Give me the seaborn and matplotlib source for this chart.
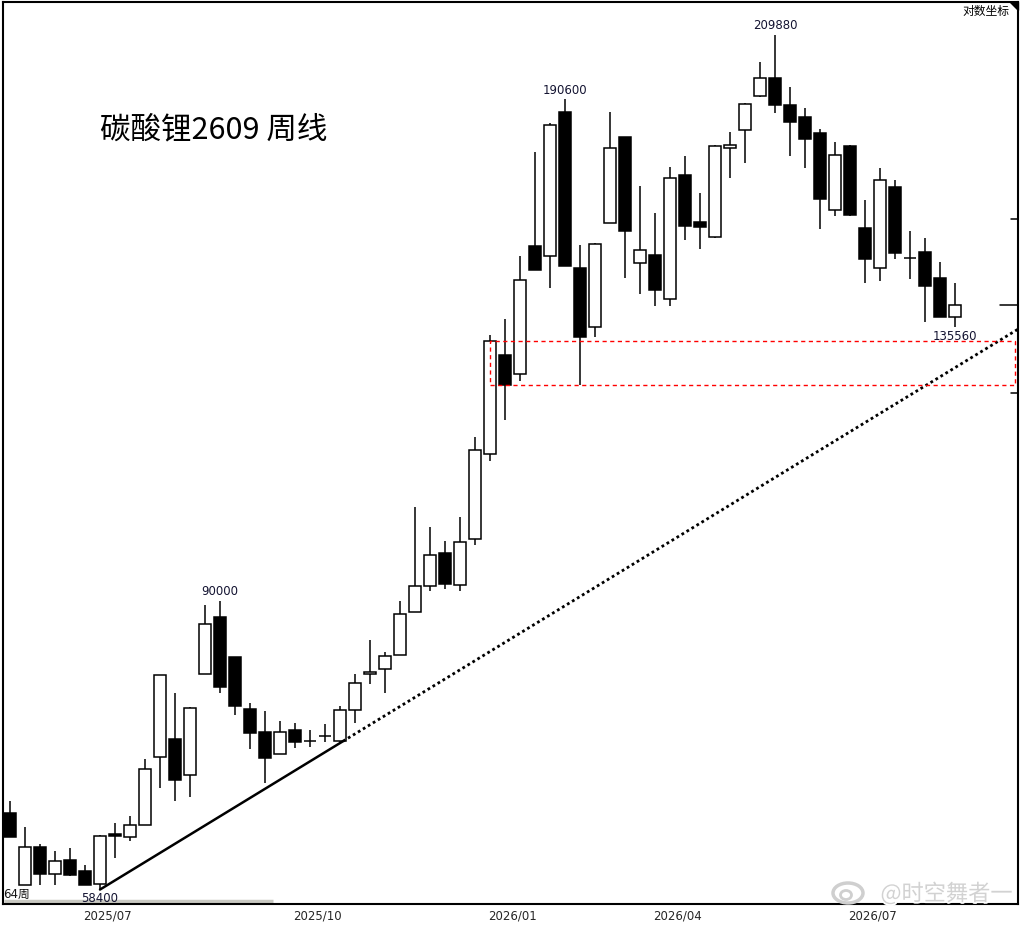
import numpy as np
import pandas as pd
import seaborn as sns
import matplotlib
matplotlib.use('Agg')
import matplotlib.pyplot as plt
import matplotlib.patheffects as pe
from matplotlib.patches import Rectangle, Polygon, Ellipse

# weekly OHLC, 64 weeks (log scale)
opens = [65490, 58790, 62240, 59770, 61040, 60040, 58890, 63460, 63180, 64320,
         71210, 73160, 69320, 80640, 87820, 82710, 76520, 73930, 71530, 74150,
         72940, 73490, 72940, 76410, 80640, 81240, 82960, 88480, 91990, 96650,
         92130, 98690, 112090, 129990, 126350, 153030, 150760, 187030, 148080, 135600,
         158400, 180160, 149190, 150990, 141360, 170200, 158640, 155110, 177220, 182070,
         191560, 196810, 189000, 185640, 181250, 161510, 177750, 157220, 148080, 167170,
         150310, 151670, 145880, 137610]
closes = [63180, 62240, 59770, 60950, 59680, 58790, 63270, 63270, 64320, 69950,
          80520, 68810, 76630, 86900, 79080, 76860, 73820, 71110, 73930, 72830,
          72890, 73480, 76410, 79560, 80880, 82840, 88210, 91990, 96360, 92270,
          98250, 112760, 132750, 124280, 145450, 147640, 183430, 148530, 133540, 153490,
          177220, 156520, 152120, 143280, 169440, 157690, 157460, 177750, 178010, 189280,
          196810, 189000, 184260, 179620, 164190, 175370, 160310, 150090, 168940, 151440,
          150310, 144140, 137610, 140100]
highs = [66670, 64130, 62520, 61870, 62140, 60580, 63360, 64520, 65200, 71000,
         80520, 78370, 76750, 89410, 90000, 82710, 77210, 76290, 75160, 74930,
         74150, 74820, 76860, 80640, 84840, 83330, 89950, 103540, 100490, 98400,
         102000, 114980, 133940, 137200, 150760, 176160, 183980, 190600, 153260, 153720,
         187030, 180160, 167410, 160790, 172250, 175110, 165670, 178010, 181520, 189570,
         201570, 209880, 194160, 188160, 182340, 178810, 178010, 163940, 172000, 168940,
         156520, 154880, 149420, 144800]
lows = [63180, 58790, 58790, 58790, 59600, 58790, 58400, 61220, 62800, 64320,
        67980, 66670, 67070, 80640, 78370, 75840, 72070, 68500, 71530, 72180,
        72290, 72830, 72720, 74930, 79440, 78370, 82960, 88480, 91300, 91580,
        91300, 97810, 110920, 117940, 125040, 147640, 143710, 148530, 124280, 133540,
        158400, 145880, 142420, 139890, 139890, 154410, 152350, 154880, 169440, 173290,
        191280, 186750, 175110, 172000, 156990, 160070, 160070, 144800, 145230, 150090,
        145670, 136580, 137610, 135560]

date_pos = [6.5, 20.5, 33.5, 44.5, 57.5]
date_labels = ['2025/07', '2025/10', '2026/01', '2026/04', '2026/07']

# marked extremes: (week index, price, above/below)
marks = [(14, 90000, 'top'), (37, 190600, 'top'), (51, 209880, 'top'),
         (6, 58400, 'bottom'), (63, 135560, 'bottom')]

box_lo, box_hi = 124280, 132750   # support zone
right_ticks = [159400, 140100, 122800]

df = pd.DataFrame({'open': opens, 'high': highs, 'low': lows, 'close': closes})
df['week'] = np.arange(len(df))
df['up'] = df['close'] > df['open']

sns.set_style('white')
plt.rcParams['font.family'] = ['DejaVu Sans', 'Noto Sans CJK SC']

fig = plt.figure(figsize=(10.24, 9.25), dpi=100)
ax = fig.add_axes([3 / 1024, 21 / 925, 1015 / 1024, 902 / 925])
ax.set_yscale('log')

# wicks
ax.vlines(df['week'], df['low'], df['high'], color='black', lw=1.1, zorder=1)
# bodies
bot = df[['open', 'close']].min(axis=1)
top = df[['open', 'close']].max(axis=1)
face = np.where(df['up'], 'white', 'black')
ax.bar(df['week'], top - bot, bottom=bot, width=0.8, color=face,
       edgecolor='black', linewidth=1.1, zorder=2)

# trend line through the two lows
x0, x1 = 6, 22
y0, y1 = lows[x0], lows[x1]
k = np.log(y1 / y0) / (x1 - x0)
xs_solid = np.array([x0, 22.2])
xs_dot = np.array([22.2, 67.3])
trend = pd.DataFrame({'x': np.r_[xs_solid, xs_dot],
                      'y': y0 * np.exp(k * (np.r_[xs_solid, xs_dot] - x0)),
                      'part': ['solid', 'solid', 'dot', 'dot']})
sns.lineplot(data=trend[trend.part == 'solid'], x='x', y='y', color='black',
             lw=1.8, ax=ax, zorder=3)
sns.lineplot(data=trend[trend.part == 'dot'], x='x', y='y', color='black',
             lw=2, linestyle=(0, (1, 1.1)), ax=ax, zorder=3)

# support box
ax.add_patch(Rectangle((32, box_lo), 35.0, box_hi - box_lo, fill=False,
                       edgecolor='red', lw=1, linestyle=(0, (3, 2.5)), zorder=4))

for wk, price, side in marks:
    if side == 'top':
        ax.annotate(f'{price}', (wk, price), xytext=(0, 2), textcoords='offset points',
                    ha='center', va='bottom', fontsize=8.5, color='#141432')
    else:
        ax.annotate(f'{price}', (wk, price), xytext=(0, -2), textcoords='offset points',
                    ha='center', va='top', fontsize=8.5, color='#141432')

ax.set_xlim(-0.467, 67.2)
ax.set_ylim(57150, 220510)
ax.set_xlabel('')
ax.set_ylabel('')
ax.set_yticks([])
ax.minorticks_off()
ax.set_yticks([], minor=True)
ax.set_xticks(date_pos)
ax.set_xticklabels(date_labels, fontsize=8.5)
ax.tick_params(axis='x', length=0, pad=4)
for s in ax.spines.values():
    s.set_color('black')
    s.set_linewidth(1.5)

# right edge ticks
ytr = ax.get_yaxis_transform()
for t, ln in zip(right_ticks, [0.0069, 0.0177, 0.0069]):
    ax.plot([1 - ln, 1], [t, t], color='black', lw=1.1, transform=ytr, clip_on=False)

ax.text(0.0956, 0.858, '碳酸锂2609 周线', transform=ax.transAxes, fontsize=22,
        family=['Noto Sans CJK SC'], weight='medium', ha='left', va='center', color='black')
ax.text(0.992, 0.99, '对数坐标', transform=ax.transAxes, fontsize=8.5,
        family=['Noto Sans CJK SC'], ha='right', va='center', color='black')
ax.add_patch(Polygon([[0.9925, 1], [1, 1], [1, 0.991]], closed=True, color='black',
                     transform=ax.transAxes, clip_on=False))
ax.text(0.0005, 0.011, '64周', transform=ax.transAxes, fontsize=8.5,
        family=['DejaVu Sans', 'Noto Sans CJK SC'], ha='left', va='center', color='#141414')
ax.plot([0.001, 0.266], [0.003, 0.003], color='#c9c9c2', lw=2.5, transform=ax.transAxes,
        solid_capstyle='butt')

# watermark
fig.text(0.989, 0.034, '@时空舞者一', fontsize=16, family=['Noto Sans CJK SC', 'DejaVu Sans'],
         ha='right', va='center', color='#d2d2d2',
         path_effects=[pe.withStroke(linewidth=2.5, foreground='white')])
fig.add_artist(Ellipse((848 / 1024, 1 - 893 / 925), 30 / 1024, 20 / 925, fill=False,
                       edgecolor='#cfcfcf', lw=2.5, transform=fig.transFigure))
fig.add_artist(Ellipse((846 / 1024, 1 - 895 / 925), 11 / 1024, 9 / 925, fill=False,
                       edgecolor='#cfcfcf', lw=2, transform=fig.transFigure))

fig.savefig('out.png', dpi=100, facecolor='white')
